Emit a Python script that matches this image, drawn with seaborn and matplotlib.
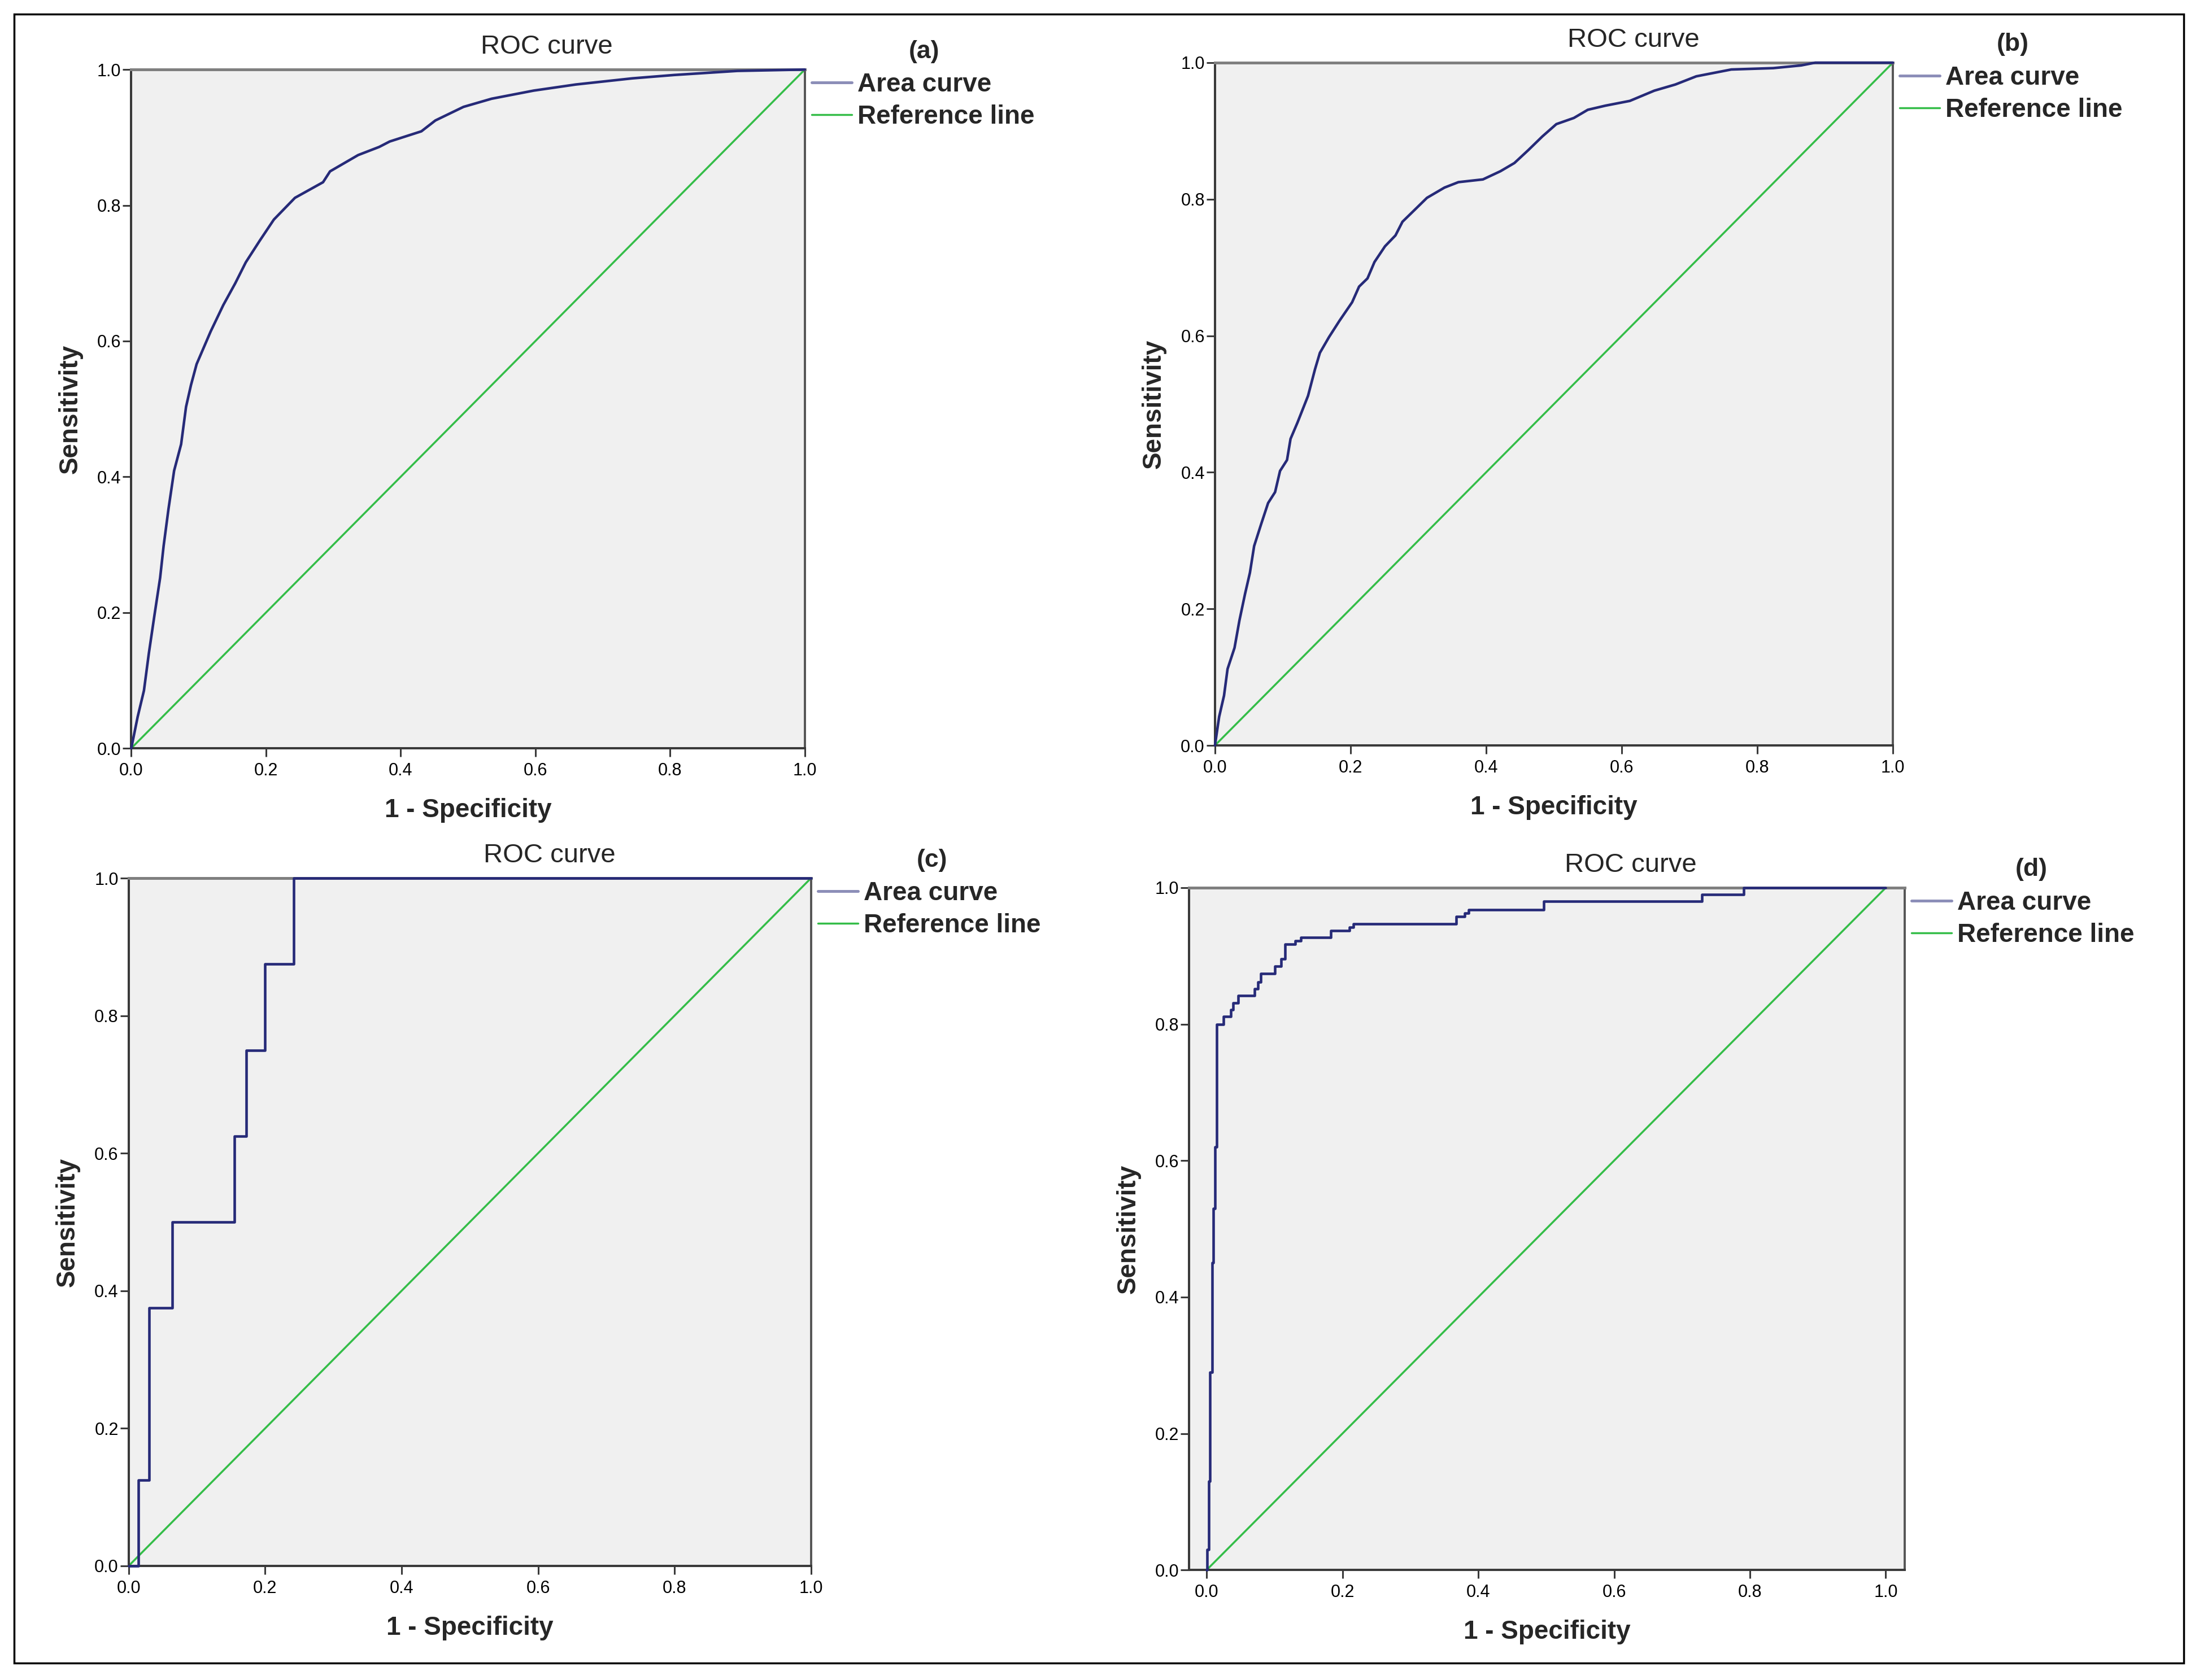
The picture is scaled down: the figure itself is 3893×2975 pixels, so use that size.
import matplotlib
matplotlib.use('Agg')
import matplotlib.pyplot as plt
from matplotlib.lines import Line2D
from matplotlib.patches import Rectangle
import seaborn as sns

#%% ROC points (1 - specificity, sensitivity)

a_fpr = [0, 0.0094, 0.0188, 0.0261, 0.0344, 0.0428, 0.0480, 0.0553, 0.0636, 0.0740,
         0.0813, 0.0886, 0.0970, 0.1074, 0.1178, 0.1366, 0.1543, 0.1700, 0.1908, 0.2117,
         0.2430, 0.2847, 0.2951, 0.3368, 0.3681, 0.3837, 0.4307, 0.4515, 0.4932, 0.5349,
         0.5975, 0.6601, 0.7435, 0.8061, 0.8999, 1.0]
a_tpr = [0, 0.046, 0.085, 0.140, 0.196, 0.251, 0.298, 0.353, 0.409, 0.448,
         0.503, 0.535, 0.566, 0.590, 0.614, 0.653, 0.685, 0.716, 0.748, 0.779,
         0.811, 0.834, 0.850, 0.874, 0.886, 0.894, 0.909, 0.925, 0.945, 0.957,
         0.969, 0.978, 0.987, 0.992, 0.998, 1.0]

b_fpr = [0, 0.0062, 0.0134, 0.0186, 0.0289, 0.0361, 0.0444, 0.0516, 0.0578, 0.0681,
         0.0784, 0.0887, 0.0960, 0.1063, 0.1115, 0.1218, 0.1373, 0.1476, 0.1548, 0.1682,
         0.1837, 0.2023, 0.2126, 0.2250, 0.2353, 0.2508, 0.2663, 0.2766, 0.2921, 0.3127,
         0.3385, 0.3591, 0.3953, 0.4211, 0.4417, 0.4623, 0.4830, 0.5036, 0.5294, 0.5500,
         0.5758, 0.6120, 0.6481, 0.6791, 0.7100, 0.7410, 0.7616, 0.8235, 0.8648, 0.8854, 1.0]
b_tpr = [0, 0.042, 0.073, 0.112, 0.143, 0.183, 0.222, 0.253, 0.292, 0.324,
         0.355, 0.371, 0.402, 0.418, 0.449, 0.473, 0.512, 0.551, 0.575, 0.598,
         0.622, 0.649, 0.672, 0.684, 0.708, 0.731, 0.747, 0.767, 0.782, 0.802,
         0.817, 0.825, 0.829, 0.841, 0.853, 0.872, 0.892, 0.910, 0.919, 0.931,
         0.937, 0.944, 0.959, 0.968, 0.980, 0.986, 0.990, 0.992, 0.996, 1.0, 1.0]

c_fpr = [0, 0.0144, 0.0298, 0.0638, 0.155, 0.172, 0.1996, 0.2418, 1.0]
c_tpr = [0, 0.125, 0.375, 0.5, 0.625, 0.75, 0.875, 1.0, 1.0]

d_fpr = [0, 0.001, 0.003, 0.005, 0.008, 0.010, 0.012, 0.0147, 0.025, 0.0354,
         0.0389, 0.0466, 0.0703, 0.0754, 0.0799, 0.1006, 0.1095, 0.1155, 0.1303, 0.1386,
         0.1832, 0.2099, 0.2164, 0.3673, 0.380, 0.386, 0.496, 0.729, 0.791, 1.0]
d_tpr = [0, 0.03, 0.13, 0.29, 0.45, 0.53, 0.62, 0.80, 0.811, 0.821,
         0.831, 0.842, 0.852, 0.862, 0.874, 0.885, 0.896, 0.917, 0.922, 0.927,
         0.937, 0.942, 0.947, 0.958, 0.963, 0.968, 0.980, 0.990, 1.0, 1.0]

ref_x = [0, 1]
ref_y = [0, 1]

panel_tags = ['(a)', '(b)', '(c)', '(d)']
tick_vals = [0.0, 0.2, 0.4, 0.6, 0.8, 1.0]
tick_text = ['0.0', '0.2', '0.4', '0.6', '0.8', '1.0']

#%% Style

sns.set_theme(style='ticks')
plt.rcParams['font.family'] = ['Liberation Sans', 'DejaVu Sans']

NAVY = '#262a78'
LEGEND_NAVY = '#8c8eb8'
GREEN = '#34bd48'
PANEL_BG = '#f0f0f0'

W, H = 3893, 2975
fig = plt.figure(figsize=(W / 100, H / 100), dpi=100)
fig.patch.set_facecolor('white')

# outer frame around the whole figure
fig.patches.append(Rectangle((25 / W, 30 / H), 3841 / W, 2920 / H, transform=fig.transFigure,
                             fill=False, edgecolor='black', linewidth=2.5))

rects = [[0.0597, 0.5546, 0.3063, 0.4040],
         [0.5525, 0.5563, 0.3083, 0.4064],
         [0.0585, 0.0679, 0.3103, 0.4094],
         [0.5407, 0.0655, 0.3255, 0.4061]]

curves = [(a_fpr, a_tpr, 'default'),
          (b_fpr, b_tpr, 'default'),
          (c_fpr, c_tpr, 'steps-post'),
          (d_fpr, d_tpr, 'steps-post')]

xlims = [(0, 1), (0, 1), (0, 1), (-0.026, 1.028)]


def ax_settings(ax, xlim):
    ax.set_facecolor(PANEL_BG)
    ax.set_xlim(*xlim)
    ax.set_ylim(0, 1)
    ax.set_xticks(tick_vals)
    ax.set_xticklabels(tick_text)
    ax.set_yticks(tick_vals)
    ax.set_yticklabels(tick_text)
    ax.spines['top'].set_color('#7f7f7f')
    ax.spines['top'].set_linewidth(3.6)
    ax.spines['right'].set_color('#555555')
    ax.spines['right'].set_linewidth(2.8)
    for s in ['left', 'bottom']:
        ax.spines[s].set_color('#3a3a3a')
        ax.spines[s].set_linewidth(2.9)
    ax.tick_params(axis='both', direction='out', length=11, width=2.2, color='#3a3a3a',
                   labelsize=22, labelcolor='black')
    ax.tick_params(axis='x', pad=7)
    ax.tick_params(axis='y', pad=2)
    ax.set_xlabel('1 - Specificity', fontsize=33, fontweight='bold', labelpad=24)
    ax.set_ylabel('Sensitivity', fontsize=33, fontweight='bold', labelpad=18)


for i in range(4):
    ax = fig.add_axes(rects[i])
    ax_settings(ax, xlims[i])

    fpr, tpr, style = curves[i]
    sns.lineplot(x=ref_x, y=ref_y, ax=ax, color=GREEN, linewidth=2.5,
                 estimator=None, sort=False, legend=False)
    sns.lineplot(x=fpr, y=tpr, ax=ax, color=NAVY, linewidth=3.3,
                 estimator=None, sort=False, legend=False,
                 drawstyle=style, clip_on=False, zorder=3)

    ax.annotate('ROC curve', xy=(0.617, 1), xycoords='axes fraction',
                xytext=(0, 40), textcoords='offset pixels',
                ha='center', va='center', fontsize=34)
    ax.annotate(panel_tags[i], xy=(1.177, 1), xycoords='axes fraction',
                xytext=(0, 32), textcoords='offset pixels',
                ha='center', va='center', fontsize=32, fontweight='bold')

    handles = [Line2D([0], [0], color=LEGEND_NAVY, linewidth=3.6),
               Line2D([0], [0], color=GREEN, linewidth=2.5)]
    width_px = rects[i][2] * W
    height_px = rects[i][3] * H
    leg = ax.legend(handles, ['Area curve', 'Reference line'],
                    loc='upper left', bbox_to_anchor=(1 + 12 / width_px, 1 - 5 / height_px),
                    frameon=False, borderaxespad=0, borderpad=0,
                    handlelength=1.55, handletextpad=0.22, labelspacing=0.28,
                    prop={'size': 33, 'weight': 'bold'})

fig.savefig('out.png', dpi=100, facecolor='white')
